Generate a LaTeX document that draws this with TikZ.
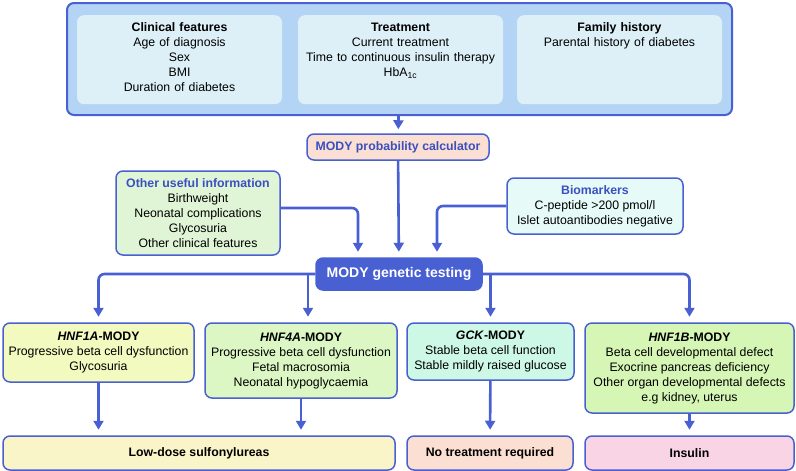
\documentclass[tikz,border=0pt]{standalone}
\usepackage{xcolor}
\usepackage{fontspec}
\usepackage{tikz}
\usetikzlibrary{arrows.meta}
\setmainfont{Liberation Sans}
\definecolor{modyblue}{RGB}{72, 96, 210}
\definecolor{titleblue}{RGB}{58, 80, 192}
\definecolor{outerfill}{RGB}{180, 212, 245}
\definecolor{panelfill}{RGB}{222, 240, 247}
\definecolor{calcfill}{RGB}{251, 223, 211}
\definecolor{otherfill}{RGB}{224, 244, 214}
\definecolor{biofill}{RGB}{230, 250, 248}
\definecolor{hnfafill}{RGB}{242, 250, 192}
\definecolor{hnffourfill}{RGB}{220, 247, 196}
\definecolor{gckfill}{RGB}{206, 248, 230}
\definecolor{hnfbfill}{RGB}{214, 246, 182}
\definecolor{lowfill}{RGB}{250, 245, 200}
\definecolor{insulinfill}{RGB}{249, 212, 228}

\begin{document}
\begin{tikzpicture}[x=1pt, y=-1pt, font=\fontsize{12.3}{15}\selectfont]
    % Define styles
    \tikzstyle{box} = [rectangle, draw=modyblue, line width=1.5pt, rounded corners=7pt, align=center, inner sep=0pt]
    \tikzstyle{panel} = [rectangle, fill=panelfill, rounded corners=7pt, align=center, anchor=north, minimum width=205pt, text width=190pt, inner ysep=7pt, text height=9pt, text depth=66pt]
    \tikzstyle{line} = [draw=modyblue, line width=2.6pt, rounded corners=6pt, -{Triangle[length=9pt,width=10pt]}, shorten >=5.5pt]
    \useasboundingbox (0,0) rectangle (796,471);

    % Nodes
    \node [box, line width=2pt, fill=outerfill, minimum width=665pt, minimum height=112pt] (top) at (399.5,59) {};
    \node [panel] (clin) at (179.5,15) {\textbf{Clinical features}\\Age of diagnosis\\Sex\\BMI\\Duration of diabetes};
    \node [panel] (treat) at (400.5,15) {\textbf{Treatment}\\Current treatment\\Time to continuous insulin therapy\\HbA\textsubscript{1c}};
    \node [panel] (fam) at (619.5,15) {\textbf{Family history}\\Parental history of diabetes};
    \node [box, fill=calcfill, minimum width=182pt, minimum height=26pt, text=titleblue, font=\fontsize{12.3}{15}\selectfont\bfseries] (calc) at (398,147) {MODY probability calculator};
    \node [box, fill=otherfill, minimum width=164pt, minimum height=84pt] (other) at (198,213) {\textcolor{titleblue}{\textbf{Other useful information}}\\Birthweight\\Neonatal complications\\Glycosuria\\Other clinical features};
    \node [box, fill=biofill, minimum width=176pt, minimum height=56pt] (biom) at (595,206) {\textcolor{titleblue}{\textbf{Biomarkers}}\\C-peptide >200 pmol/l\\Islet autoantibodies negative};
    \node [box, fill=modyblue, minimum width=166pt, minimum height=32pt, text=white, font=\fontsize{14}{16}\selectfont\bfseries] (gen) at (399,274) {MODY genetic testing};
    \node [box, fill=hnfafill, minimum width=191pt, minimum height=59pt] (hnf1a) at (98.5,352.5) {\textbf{\textit{HNF1A}-MODY}\\Progressive beta cell dysfunction\\Glycosuria};
    \node [box, fill=hnffourfill, minimum width=192pt, minimum height=75pt] (hnf4a) at (301,360.5) {\textbf{\textit{HNF4A}-MODY}\\Progressive beta cell dysfunction\\Fetal macrosomia\\Neonatal hypoglycaemia};
    \node [box, fill=gckfill, minimum width=167pt, minimum height=57pt] (gck) at (490.5,351.5) {\textbf{\textit{GCK}-MODY}\\Stable beta cell function\\Stable mildly raised glucose};
    \node [box, fill=hnfbfill, minimum width=209pt, minimum height=90pt] (hnf1b) at (689.5,368) {\textbf{\textit{HNF1B}-MODY}\\Beta cell developmental defect\\Exocrine pancreas deficiency\\Other organ developmental defects\\e.g kidney, uterus};
    \node [box, fill=lowfill, minimum width=392pt, minimum height=34pt, font=\fontsize{12.3}{15}\selectfont\bfseries] (low) at (199,453) {Low-dose sulfonylureas};
    \node [box, fill=calcfill, minimum width=166pt, minimum height=34pt, font=\fontsize{12.3}{15}\selectfont\bfseries] (notreat) at (490,453) {No treatment required};
    \node [box, fill=insulinfill, minimum width=209pt, minimum height=34pt, font=\fontsize{12.3}{15}\selectfont\bfseries] (insulin) at (689.5,453) {Insulin};
    \coordinate (splitL) at (308,274);

    % Connections
    \path [line, shorten >=4pt] (top) -- (calc);
    \path [line] (calc) -- (gen);
    \path [line] ([yshift=5pt]other.east) -| ([xshift=-41pt]gen.north);
    \path [line] (biom.west) -| ([xshift=38pt]gen.north);
    \path [line] (gen.west) -| (hnf1a.north);
    \path [line] (splitL) -- (splitL |- hnf4a.north);
    \path [line] (gck.north |- gen.east) -- (gck.north);
    \path [line] (gen.east) -| (hnf1b.north);
    \path [line] (hnf1a.south) -- (hnf1a.south |- low.north);
    \path [line] (hnf4a.south) -- (hnf4a.south |- low.north);
    \path [line] (gck) -- (notreat);
    \path [line] (hnf1b) -- (insulin);
\end{tikzpicture}
\end{document}
